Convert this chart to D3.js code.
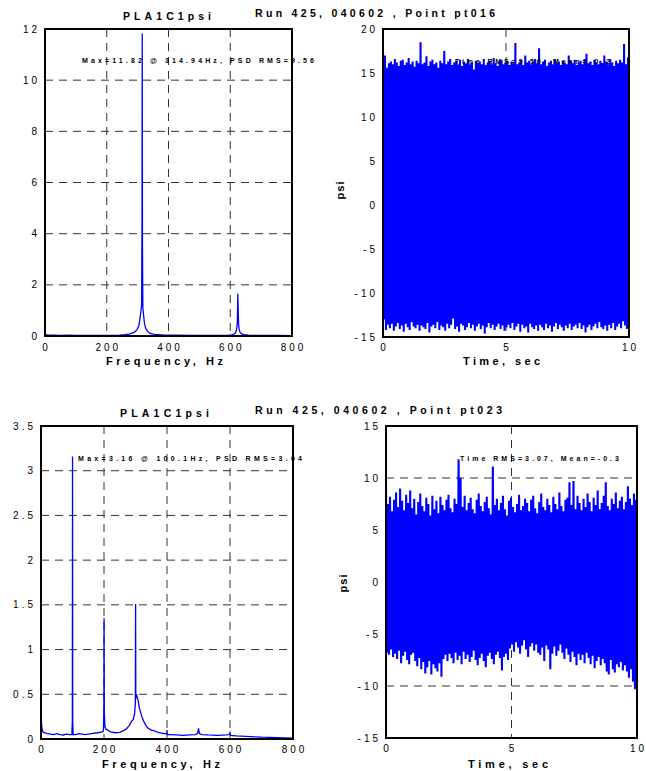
<!DOCTYPE html>
<html><head><meta charset="utf-8">
<script src="https://cdn.jsdelivr.net/npm/d3@7"></script>
<style>body{margin:0;background:#fff} text{font-family:"Liberation Sans",Arial,Helvetica,sans-serif;fill:#000}</style>
</head><body><svg id="c" width="646" height="771"></svg>
<script>
// ---------- DATA ----------
const psd1Freq = [0,2,5,10,30,50,80,100,150,200,240,260,275,290,298,304,308,311,313,314.2,314.94,315.7,317,319,322,326,332,340,355,380,420,480,540,590,605,613,618,621,623,624.5,625.5,627,629,632,637,645,660,700,750,800];
const psd1Val  = [0.1,0.06,0.04,0.03,0.03,0.02,0.03,0.02,0.02,0.02,0.03,0.05,0.08,0.15,0.25,0.4,0.7,1.0,1.25,4.5,11.82,3.5,1.1,0.85,0.5,0.3,0.18,0.1,0.06,0.04,0.03,0.02,0.02,0.02,0.04,0.08,0.15,0.3,0.55,1.65,1.2,0.45,0.25,0.14,0.08,0.05,0.03,0.02,0.02,0.01];

const psd2Freq = [0,1,2,4,6,10,20,30,40,50,60,70,80,90,98,99.5,100.1,100.7,102,110,120,140,160,180,195,198,199.5,200.2,201,203,206,212,220,235,250,260,270,280,288,293,297,299.5,300.3,301,303,306,309,312,316,320,326,333,340,350,360,375,390,399,400,401,410,430,450,470,490,497,500,503,510,530,560,590,598,600,602,620,650,700,750,800];
const psd2Val  = [0.35,0.25,0.15,0.1,0.08,0.07,0.06,0.055,0.05,0.06,0.05,0.045,0.055,0.05,0.05,0.2,3.16,0.2,0.05,0.05,0.06,0.05,0.06,0.07,0.08,0.09,0.3,1.35,0.3,0.14,0.11,0.1,0.08,0.07,0.075,0.09,0.11,0.15,0.2,0.22,0.28,0.4,1.51,0.45,0.5,0.46,0.42,0.35,0.3,0.25,0.2,0.15,0.12,0.1,0.09,0.07,0.06,0.06,0.1,0.05,0.05,0.045,0.04,0.045,0.05,0.06,0.12,0.06,0.05,0.045,0.04,0.045,0.05,0.07,0.04,0.035,0.03,0.02,0.015,0.01];

// time-history envelopes (per sample: peak and trough), 0..10 s
const pt016Max = [16.8,17.0,15.6,16.1,16.3,16.0,16.6,16.2,15.8,16.4,
 16.5,15.9,16.2,16.7,16.0,16.3,15.7,16.4,16.1,18.5,
 16.0,16.2,16.9,15.8,16.3,16.5,16.0,16.2,15.6,16.4,
 16.1,17.5,16.0,16.3,16.6,15.9,16.2,16.4,16.0,16.5,
 15.8,16.3,16.1,16.6,16.0,16.2,15.4,16.4,16.1,16.3,
 16.0,16.6,15.9,16.2,16.4,16.0,16.7,16.1,15.8,16.3,
 16.5,16.0,16.2,16.4,15.9,16.3,16.1,18.4,16.0,16.2,
 16.5,15.9,17.0,16.2,16.4,16.0,16.3,16.6,16.1,17.8,
 16.0,16.3,16.5,15.8,16.2,16.4,16.0,16.6,16.1,16.3,
 15.9,16.4,16.2,16.0,17.0,16.3,16.1,16.5,15.9,16.2,
 16.4,16.0,16.6,17.2,16.1,16.3,15.9,16.5,16.2,16.0,
 16.4,16.1,17.0,16.3,16.0,16.6,16.2,15.8,16.4,16.1,
 16.5,16.2,18.3,16.0,16.8];
const pt016Min = [-13.0,-14.2,-13.6,-14.0,-13.5,-14.3,-13.8,-13.4,-14.1,-13.7,
 -14.4,-13.5,-13.9,-14.2,-13.3,-13.8,-14.0,-13.6,-14.3,-13.7,
 -13.9,-14.1,-13.4,-14.5,-13.8,-13.6,-14.0,-13.3,-14.2,-13.7,
 -13.9,-14.3,-13.5,-14.0,-13.6,-12.9,-14.1,-13.8,-14.4,-13.5,
 -13.7,-14.2,-13.9,-13.4,-14.0,-13.6,-14.3,-13.8,-13.5,-14.1,
 -13.7,-14.6,-13.9,-13.4,-14.0,-13.6,-14.2,-13.8,-13.5,-14.1,
 -13.7,-14.3,-13.9,-13.6,-14.0,-13.4,-14.2,-13.8,-13.5,-14.4,
 -13.6,-14.0,-13.8,-14.5,-13.5,-13.9,-14.1,-13.7,-14.3,-13.6,
 -13.9,-14.2,-13.5,-14.0,-13.7,-14.4,-13.8,-13.4,-14.1,-13.6,
 -13.9,-14.3,-13.7,-14.0,-13.5,-14.2,-13.8,-13.6,-14.0,-13.4,
 -14.1,-13.7,-14.5,-13.9,-13.6,-14.2,-13.8,-13.5,-14.0,-13.3,
 -13.9,-14.1,-13.7,-14.3,-13.6,-14.0,-13.4,-14.2,-13.8,-13.5,
 -14.0,-13.2,-13.7,-14.1,-13.6];
const pt023Max = [9.6,7.5,8.2,6.8,7.9,8.6,7.2,9.0,7.8,6.9,
 8.4,7.6,8.8,7.1,8.0,6.5,7.7,8.5,7.3,6.8,
 8.1,7.5,6.4,8.3,7.0,7.8,6.6,8.2,7.4,6.9,
 7.9,8.4,7.1,6.7,8.0,7.5,11.8,10.0,7.2,8.3,
 6.9,7.6,8.1,7.0,6.6,7.9,8.5,7.3,6.8,7.7,
 8.2,7.1,6.5,11.1,7.4,8.0,6.9,7.6,8.3,7.0,
 6.4,7.8,8.1,7.2,6.7,7.5,8.4,6.9,7.3,8.0,
 7.6,6.8,7.9,8.3,7.1,6.6,7.7,8.5,7.2,6.9,
 8.0,7.4,6.7,8.2,7.5,7.0,8.6,7.3,6.8,7.9,
 8.1,9.6,7.4,9.7,7.0,8.3,7.6,6.9,8.0,7.2,
 8.5,7.7,6.8,8.1,7.4,8.8,7.0,7.6,8.3,9.6,
 7.3,6.9,8.0,7.5,8.6,7.1,7.8,8.2,7.0,7.7,
 9.2,8.0,7.4,8.5,7.9];
const pt023Min = [-6.8,-7.0,-6.5,-7.2,-6.9,-7.4,-6.6,-7.8,-7.1,-6.7,
 -7.5,-7.9,-7.0,-6.8,-7.6,-8.1,-7.3,-8.4,-7.7,-8.8,
 -8.2,-7.6,-8.9,-7.9,-8.3,-8.6,-7.8,-9.1,-7.4,-7.0,
 -7.6,-6.9,-7.3,-7.8,-6.8,-7.5,-7.1,-7.9,-6.7,-7.4,
 -7.0,-7.7,-7.2,-6.6,-7.5,-8.0,-7.3,-6.9,-7.6,-8.2,
 -7.1,-6.8,-7.4,-7.9,-7.0,-6.7,-7.3,-8.5,-7.2,-6.9,
 -7.5,-6.4,-6.0,-6.7,-5.8,-6.3,-6.9,-6.1,-5.6,-6.5,
 -7.2,-6.2,-5.9,-6.6,-6.0,-6.8,-7.0,-6.3,-7.6,-6.1,
 -6.5,-8.4,-6.9,-6.2,-7.1,-6.6,-6.0,-6.8,-7.4,-6.4,
 -7.0,-7.7,-6.7,-7.2,-8.0,-6.9,-7.5,-7.0,-7.8,-6.8,
 -7.3,-7.9,-7.1,-8.3,-7.6,-7.2,-8.0,-7.4,-7.8,-8.6,
 -8.9,-7.5,-8.4,-8.7,-7.9,-8.2,-7.7,-8.5,-8.0,-8.6,
 -9.2,-8.4,-9.6,-10.3,-10.1];

const freqTicks = [0,200,400,600,800];
const timeTicks = [0,5,10];
const psd1Ticks = [0,2,4,6,8,10,12];
const psd2Ticks = [0,0.5,1,1.5,2,2.5,3,3.5];
const psiTicks  = [-15,-10,-5,0,5,10,15,20];
const psi2Ticks = [-15,-10,-5,0,5,10,15];

const titleText = "PLA1C1psi";
const runTexts = ["Run 425, 040602 , Point pt016", "Run 425, 040602 , Point pt023"];
const annTexts = ["Max=11.82 @ 314.94Hz, PSD RMS=9.56", "Time RMS=9.56, Mean=-0.2",
                  "Max=3.16 @ 100.1Hz, PSD RMS=3.04", "Time RMS=3.07, Mean=-0.3"];

// ---------- DRAW ----------
const svg = d3.select("#c");
const BLUE = "#0000ff";

function txt(s, x, y, opt) {
  const t = svg.append("text").attr("x", x).attr("y", y).text(s)
    .style("font-size", (opt.size||10) + "px")
    .style("font-weight", opt.bold ? "bold" : "normal");
  if (opt.len) t.attr("textLength", opt.len).attr("lengthAdjust", "spacing");
  if (opt.ls) t.style("letter-spacing", opt.ls + "px");
  if (opt.anchor) t.attr("text-anchor", opt.anchor);
  if (opt.rot) t.attr("transform", `rotate(${opt.rot},${x},${y})`);
  return t;
}

function panel(cfg, idx) {
  const x = d3.scaleLinear().domain(cfg.xd).range([cfg.x0, cfg.x1]);
  const y = d3.scaleLinear().domain(cfg.yd).range([cfg.y1, cfg.y0]);
  const g = svg.append("g");
  const clipId = "clip" + idx;
  svg.append("clipPath").attr("id", clipId).append("rect")
    .attr("x", cfg.x0).attr("y", cfg.y0).attr("width", cfg.x1 - cfg.x0).attr("height", cfg.y1 - cfg.y0);

  // grid
  const grid = g.append("g").attr("stroke", "#333").attr("stroke-width", 1).attr("stroke-dasharray", "8,6");
  cfg.xt.filter(v => v !== cfg.xd[0] && v !== cfg.xd[1]).forEach(v => {
    grid.append("line").attr("x1", x(v)).attr("x2", x(v)).attr("y1", cfg.y0).attr("y2", cfg.y1);
  });
  cfg.yt.filter(v => v !== cfg.yd[0] && v !== cfg.yd[1]).forEach(v => {
    grid.append("line").attr("x1", cfg.x0).attr("x2", cfg.x1).attr("y1", y(v)).attr("y2", y(v));
  });

  // data
  const dg = g.append("g").attr("clip-path", `url(#${clipId})`);
  if (cfg.freq) {
    const pts = cfg.freq.map((f, i) => [f, cfg.val[i]]);
    dg.append("path").attr("d", d3.line().x(d => x(d[0])).y(d => y(d[1]))(pts))
      .attr("fill", "none").attr("stroke", BLUE).attr("stroke-width", 1.3);
  } else {
    const n = cfg.hi.length;
    const ts = d3.scaleLinear().domain([0, n - 0.5]).range(cfg.xd);
    const pts = [];
    cfg.hi.forEach((h, i) => { pts.push([ts(i), h]); pts.push([ts(i + 0.5), cfg.lo[i]]); });
    dg.append("path").attr("d", d3.line().x(d => x(d[0])).y(d => y(d[1]))(pts))
      .attr("fill", "none").attr("stroke", BLUE).attr("stroke-width", 2.1).attr("stroke-linejoin", "bevel");
  }

  // frame
  g.append("rect").attr("x", cfg.x0).attr("y", cfg.y0).attr("width", cfg.x1 - cfg.x0).attr("height", cfg.y1 - cfg.y0)
    .attr("fill", "none").attr("stroke", "#000").attr("stroke-width", 2);

  // tick labels
  cfg.xt.forEach(v => txt(String(v), x(v) + 1.5, cfg.xtY, {size: 10, ls: 3, anchor: "middle"}));
  cfg.yt.forEach(v => txt(String(v), cfg.x0 - 5, y(v) + 3.6, {size: 10, ls: 3, anchor: "end"}));

  // labels
  txt(cfg.xl, cfg.xlX, cfg.xlY, {size: 11, bold: true, len: cfg.xlLen});
  if (cfg.ylab) txt(cfg.ylab, cfg.ylX, cfg.ylY, {size: 11, bold: true, rot: -90, anchor: "middle", ls: 1});
  txt(cfg.ann, cfg.annX, cfg.annY, {size: 7, bold: true, len: cfg.annLen});
}

panel({x0:45, x1:292, y0:29, y1:336, xd:[0,800], yd:[0,12], xt:freqTicks, yt:psd1Ticks,
  freq:psd1Freq, val:psd1Val, xtY:351, xl:"Frequency, Hz", xlX:106, xlY:365, xlLen:117,
  ann:annTexts[0], annX:82, annY:63, annLen:232}, 1);
panel({x0:383, x1:629, y0:29, y1:337, xd:[0,10], yd:[-15,20], xt:timeTicks, yt:psiTicks,
  hi:pt016Max, lo:pt016Min, xtY:351, xl:"Time, sec", xlX:463, xlY:365, xlLen:77,
  ylab:"psi", ylX:344, ylY:190, ann:annTexts[1], annX:455, annY:64, annLen:155}, 2);
panel({x0:41, x1:293, y0:426, y1:739, xd:[0,800], yd:[0,3.5], xt:freqTicks, yt:psd2Ticks,
  freq:psd2Freq, val:psd2Val, xtY:753, xl:"Frequency, Hz", xlX:102, xlY:768, xlLen:118,
  ann:annTexts[2], annX:78, annY:461, annLen:224}, 3);
panel({x0:386, x1:637, y0:426, y1:738, xd:[0,10], yd:[-15,15], xt:timeTicks, yt:psi2Ticks,
  hi:pt023Max, lo:pt023Min, xtY:752, xl:"Time, sec", xlX:468, xlY:768, xlLen:80,
  ylab:"psi", ylX:347, ylY:583, ann:annTexts[3], annX:460, annY:461, annLen:159}, 4);

// titles
txt(titleText, 123, 19.5, {size: 10.5, bold: true, len: 88});
txt(runTexts[0], 255, 16.7, {size: 10.5, bold: true, len: 240});
txt(titleText, 120, 416.5, {size: 10.5, bold: true, len: 89});
txt(runTexts[1], 255, 414, {size: 10.5, bold: true, len: 247});
</script></body></html>
